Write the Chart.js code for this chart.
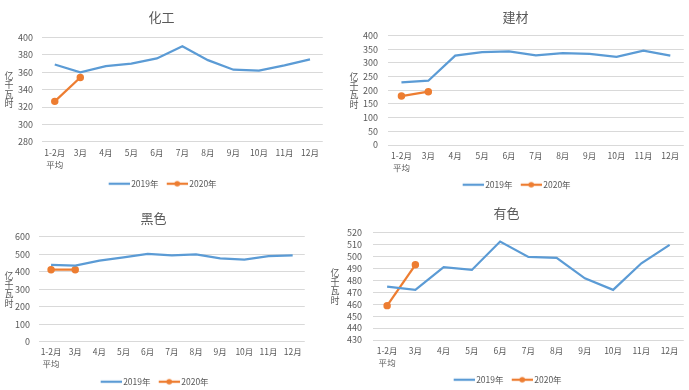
<!DOCTYPE html>
<html>
<head>
<meta charset="utf-8">
<script src="https://cdn.jsdelivr.net/npm/chart.js@4"></script>
<style>
  html, body { margin: 0; padding: 0; background: #fff; }
  #wrap { position: relative; width: 689px; height: 390px; overflow: hidden; }
  #wrap canvas { position: absolute; }
</style>
</head>
<body>
<div id="wrap">
  <canvas id="c1" width="328" height="198" style="left:0;top:0"></canvas>
  <canvas id="c2" width="344" height="199" style="left:345px;top:0"></canvas>
  <canvas id="c3" width="310" height="201" style="left:0;top:195px"></canvas>
  <canvas id="c4" width="363" height="199" style="left:326px;top:195px"></canvas>
</div>
<script>
// categorias (meses)
const meses = [['1-2月', '平均'], '3月', '4月', '5月', '6月', '7月', '8月', '9月', '10月', '11月', '12月'];
const series = ['2019年', '2020年'];

// 化工
const huagong2019 = [369, 360, 367, 370, 376, 390, 374, 363, 362, 368, 375];
const huagong2020 = [326.5, 354];
// 建材
const jiancai2019 = [229, 235, 327, 340, 342, 328, 336, 333, 322, 345, 327];
const jiancai2020 = [179, 195];
// 黑色
const heise2019 = [438, 434, 463, 482, 501, 493, 499, 476, 469, 488, 493];
const heise2020 = [411, 411];
// 有色
const youse2019 = [474.7, 472, 491, 488.7, 512.5, 499.6, 498.8, 481.7, 472, 494.3, 509.7];
const youse2020 = [458.8, 493];

const unidad = '亿千瓦时';

const FONT = '"Noto Sans CJK SC", "Noto Sans", sans-serif';
const GRIS = '#595959';
const AZUL = '#5B9BD5';
const NARANJA = '#ED7D31';

// eje vertical "亿千瓦时", caracteres apilados y centrados en el area del grafico
function tituloVertical(texto, x) {
    return {
        id: 'tituloVertical',
        afterDraw(chart) {
            const { ctx, chartArea } = chart;
            const chars = Array.from(texto);
            const lh = 9.3;
            const y0 = (chartArea.top + chartArea.bottom) / 2 - (chars.length - 1) * lh / 2;
            ctx.save();
            ctx.font = '9px ' + FONT;
            ctx.fillStyle = GRIS;
            ctx.textAlign = 'center';
            ctx.textBaseline = 'middle';
            chars.forEach((c, i) => ctx.fillText(c, x, y0 + i * lh));
            ctx.restore();
        }
    };
}

// iconos de la leyenda: linea sola / linea con punto (con margen transparente a la izquierda)
function iconoLeyenda(color, conPunto) {
    const cv = document.createElement('canvas');
    cv.width = 26; cv.height = 8;
    const c = cv.getContext('2d');
    c.strokeStyle = color;
    c.lineWidth = 2.25;
    c.beginPath(); c.moveTo(5, 4); c.lineTo(26, 4); c.stroke();
    if (conPunto) {
        c.fillStyle = color;
        c.beginPath(); c.arc(15.5, 4, 2.8, 0, Math.PI * 2); c.fill();
    }
    return cv;
}
const iconos = [iconoLeyenda(AZUL, false), iconoLeyenda(NARANJA, true)];

function crearGrafico(id, titulo, d2019, d2020, escala, lay) {
    const ctx = document.getElementById(id);
    return new Chart(ctx, {
        type: 'line',
        data: {
            labels: meses,
            datasets: [
                { label: series[0], data: d2019, borderColor: AZUL, backgroundColor: AZUL, borderWidth: 2.25, pointRadius: 0, tension: 0 },
                { label: series[1], data: d2020, borderColor: NARANJA, backgroundColor: NARANJA, borderWidth: 2.25, pointRadius: 2.6, pointHoverRadius: 3, tension: 0 }
            ]
        },
        options: {
            responsive: false,
            animation: false,
            layout: { padding: { left: 0, right: lay.right, top: 0, bottom: 0 } },
            plugins: {
                title: {
                    display: true, text: titulo, color: GRIS,
                    font: { family: FONT, size: 13, weight: 'normal' },
                    padding: { top: lay.tTop, bottom: lay.tBottom }
                },
                legend: {
                    position: 'bottom',
                    labels: {
                        color: GRIS, font: { family: FONT, size: 8.5 }, padding: 6,
                        usePointStyle: true, pointStyleWidth: 20.5, boxHeight: 8,
                        generateLabels: (chart) => chart.data.datasets.map((ds, i) => ({
                            text: ds.label, pointStyle: iconos[i], fontColor: GRIS,
                            strokeStyle: ds.borderColor, fillStyle: ds.borderColor, lineWidth: 0, datasetIndex: i
                        }))
                    }
                },
                tooltip: { enabled: false }
            },
            scales: {
                x: {
                    offset: true,
                    grid: { display: false, drawTicks: false },
                    border: { display: false },
                    ticks: { color: GRIS, font: { family: FONT, size: 8.5, lineHeight: 1.4 }, padding: lay.xPad, autoSkip: false, maxRotation: 0 },
                    afterFit: (s) => { s.height = lay.xH; }
                },
                y: {
                    min: escala.min, max: escala.max,
                    grid: { color: '#D9D9D9', drawTicks: false, lineWidth: 1 },
                    border: { display: false },
                    ticks: {
                        count: (escala.max - escala.min) / escala.step + 1, autoSkip: false,
                        color: GRIS, font: { family: FONT, size: 9, lineHeight: 1 }, padding: lay.yPad
                    },
                    afterFit: (s) => { s.width = lay.left; }
                }
            }
        },
        plugins: [tituloVertical(unidad, 9)]
    });
}

crearGrafico('c1', '化工', huagong2019, huagong2020, { min: 280, max: 400, step: 20 },
    { left: 42, right: 5, tTop: 9, tBottom: 13, xH: 31.8, xPad: 5, yPad: 9 });
crearGrafico('c2', '建材', jiancai2019, jiancai2020, { min: 0, max: 400, step: 50 },
    { left: 43, right: 3, tTop: 9, tBottom: 11, xH: 29.5, xPad: 5, yPad: 10 });
crearGrafico('c3', '黑色', heise2019, heise2020, { min: 0, max: 600, step: 100 },
    { left: 39, right: 3, tTop: 15, tBottom: 11, xH: 29.8, xPad: 4.3, yPad: 9 });
crearGrafico('c4', '有色', youse2019, youse2020, { min: 430, max: 520, step: 10 },
    { left: 47, right: 2, tTop: 10, tBottom: 12, xH: 29.5, xPad: 5, yPad: 11 });
</script>
</body>
</html>
